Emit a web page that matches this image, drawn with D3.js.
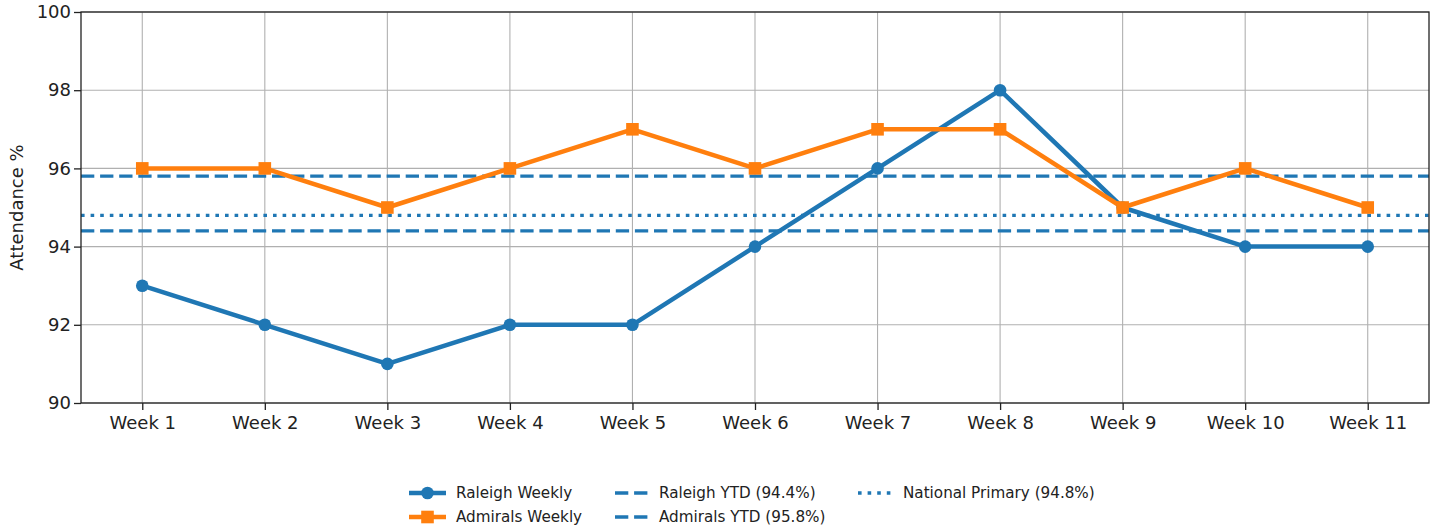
<!DOCTYPE html>
<html><head><meta charset="utf-8">
<script src="https://cdn.jsdelivr.net/npm/d3@7"></script>
<style>body{margin:0;background:#fff;} svg{display:block;font-family:"DejaVu Sans",sans-serif;}</style>
</head><body>
<svg id="c" width="1435" height="527"></svg>
<script>
const weeks = ["Week 1","Week 2","Week 3","Week 4","Week 5","Week 6","Week 7","Week 8","Week 9","Week 10","Week 11"];
const raleigh = [93,92,91,92,92,94,96,98,95,94,94];
const admirals = [96,96,95,96,97,96,97,97,95,96,95];
const raleighYTD = 94.4;
const admiralsYTD = 95.8;
const nationalPrimary = 94.8;
const yTicks = [90,92,94,96,98,100];

const svg = d3.select("#c");
const L=81, R=1429, T=12, B=403;
const x = d3.scaleLinear().domain([-0.5, weeks.length-0.5]).range([L,R]);
const y = d3.scaleLinear().domain([90,100]).range([B,T]);
const blue="#1f77b4", orange="#ff7f0e";
const DASH="13.3,5.8", DOT="3.6,6";

const g = svg.append("g");
// grid
g.selectAll(".gx").data(weeks).enter().append("line")
  .attr("x1",(d,i)=>x(i)).attr("x2",(d,i)=>x(i)).attr("y1",T).attr("y2",B)
  .attr("stroke","#b0b0b0").attr("stroke-width",1.1);
g.selectAll(".gy").data(yTicks).enter().append("line")
  .attr("x1",L).attr("x2",R).attr("y1",d=>y(d)).attr("y2",d=>y(d))
  .attr("stroke","#b0b0b0").attr("stroke-width",1.1);

// reference lines
const refs = [
  {v:raleighYTD, dash:DASH},
  {v:admiralsYTD, dash:DASH},
  {v:nationalPrimary, dash:DOT}
];
g.selectAll(".ref").data(refs).enter().append("line")
  .attr("x1",L).attr("x2",R).attr("y1",d=>y(d.v)).attr("y2",d=>y(d.v))
  .attr("stroke",blue).attr("stroke-width",3.3).attr("stroke-dasharray",d=>d.dash);

const line = d3.line().x((d,i)=>x(i)).y(d=>y(d));
g.append("path").datum(raleigh).attr("d",line).attr("fill","none").attr("stroke",blue).attr("stroke-width",4.5).attr("stroke-linejoin","round");
g.append("path").datum(admirals).attr("d",line).attr("fill","none").attr("stroke",orange).attr("stroke-width",4.5).attr("stroke-linejoin","round");
g.selectAll(".rp").data(raleigh).enter().append("circle")
  .attr("cx",(d,i)=>x(i)).attr("cy",d=>y(d)).attr("r",6.3).attr("fill",blue);
g.selectAll(".ap").data(admirals).enter().append("rect")
  .attr("x",(d,i)=>x(i)-6.3).attr("y",d=>y(d)-6.3).attr("width",12.6).attr("height",12.6).attr("fill",orange);

// frame
svg.append("rect").attr("x",L).attr("y",T).attr("width",R-L).attr("height",B-T)
  .attr("fill","none").attr("stroke","#222").attr("stroke-width",1.3);

// axes
const xa = svg.append("g").attr("transform",`translate(0,${B})`)
  .call(d3.axisBottom(x).tickValues(d3.range(weeks.length)).tickFormat(i=>weeks[i]).tickSize(7).tickPadding(6));
const ya = svg.append("g").attr("transform",`translate(${L},0)`)
  .call(d3.axisLeft(y).tickValues(yTicks).tickSize(7).tickPadding(3));
[xa,ya].forEach(a=>{a.select(".domain").remove();
  a.selectAll("line").attr("stroke","#222").attr("stroke-width",1.3);
  a.selectAll("text").attr("fill","#222").style("font-size","18px").style("font-family","DejaVu Sans");});

svg.append("text").attr("transform",`translate(23,${(T+B)/2}) rotate(-90)`)
  .attr("text-anchor","middle").style("font-size","18px").attr("fill","#222").text("Attendance %");

// legend
const legend = [
  {label:"Raleigh Weekly", type:"circle", color:blue, col:0,row:0},
  {label:"Admirals Weekly", type:"square", color:orange, col:0,row:1},
  {label:"Raleigh YTD (94.4%)", type:"dash", color:blue, col:1,row:0},
  {label:"Admirals YTD (95.8%)", type:"dash", color:blue, col:1,row:1},
  {label:"National Primary (94.8%)", type:"dot", color:blue, col:2,row:0}
];
const colX=[409,615,858], rowY=[493,517];
const lg = svg.append("g");
legend.forEach(d=>{
  const x0=colX[d.col], y0=rowY[d.row];
  const gg = lg.append("g");
  if(d.type==="circle"||d.type==="square"){
    gg.append("line").attr("x1",x0).attr("x2",x0+37).attr("y1",y0).attr("y2",y0).attr("stroke",d.color).attr("stroke-width",4.5);
    if(d.type==="circle") gg.append("circle").attr("cx",x0+18.5).attr("cy",y0).attr("r",6.3).attr("fill",d.color);
    else gg.append("rect").attr("x",x0+12.2).attr("y",y0-6.3).attr("width",12.6).attr("height",12.6).attr("fill",d.color);
  } else {
    gg.append("line").attr("x1",x0).attr("x2",x0+34).attr("y1",y0).attr("y2",y0).attr("stroke",d.color).attr("stroke-width",3.3)
      .attr("stroke-dasharray",d.type==="dash"?DASH:DOT);
  }
  const tx = d.col===2 ? x0+45 : x0+47 - (d.col===1?3:0);
  gg.append("text").attr("x",d.col===0?456:(d.col===1?659:903)).attr("y",y0).attr("dy","0.35em").style("font-size","15.2px").attr("fill","#222").text(d.label);
});
</script>
</body></html>
